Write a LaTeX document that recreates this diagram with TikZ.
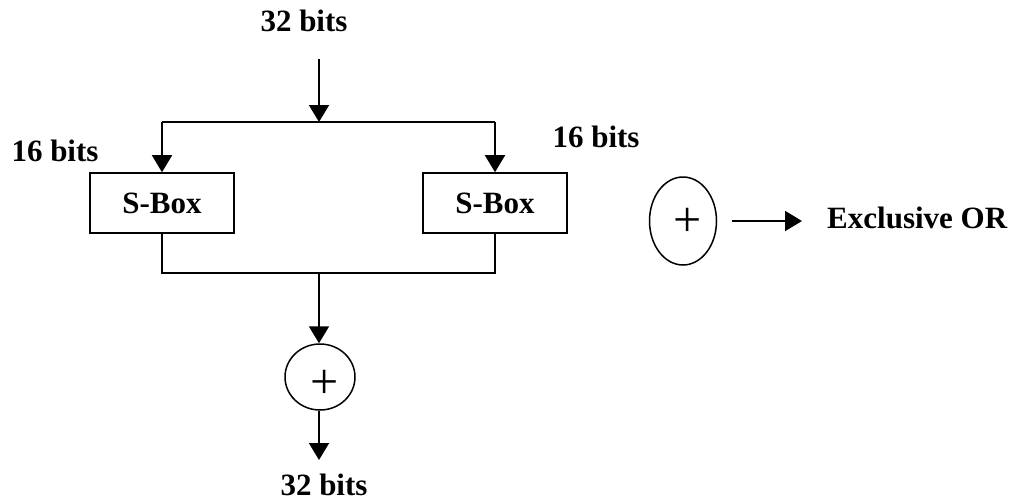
\documentclass[tikz,border=0pt]{standalone}
\usepackage{fontspec}
\setmainfont{Liberation Serif}
\usetikzlibrary{arrows.meta,shapes.geometric}
\begin{document}
\begin{tikzpicture}[x=1pt,y=-1pt,
  lbl/.style={inner sep=0pt,font=\fontsize{31}{36}\selectfont\bfseries},
  sbox/.style={draw,line width=1.6pt,minimum width=144pt,minimum height=60pt,inner sep=0pt,font=\fontsize{31}{36}\selectfont\bfseries},
  xorshape/.style={draw,ellipse,line width=1.5pt,inner sep=0pt},
  plussign/.style={inner sep=0pt,font=\fontsize{50}{54}\selectfont},
  wire/.style={line width=1.8pt},
  arr/.style={wire,-{Triangle[width=20pt,length=17pt]}}]
\useasboundingbox (0,0) rectangle (1019,501);
% labels
\node[lbl] (top) at (304,21) {32 bits};
\node[lbl] (l16) at (55,151) {16 bits};
\node[lbl] (r16) at (596,137) {16 bits};
\node[lbl] (bot) at (324,485) {32 bits};
% boxes
\node[sbox] (sl) at (162,203) {S-Box};
\node[sbox] (sr) at (495,203) {S-Box};
% xor
\node[xorshape,minimum width=70pt,minimum height=66pt] (xor) at (320,377) {};
\node[plussign] (xp) at (325,384) {+};
% coordinates
\coordinate (a0) at (319,59);
\coordinate (j1) at (319,122);
\coordinate (j2) at (319,273);
\coordinate (out) at (319,460);
% connectors
\draw[arr] (a0) -- (j1);
\draw[wire] (sl.north |- j1) -- (sr.north |- j1);
\draw[arr] (sl.north |- j1) -- (sl.north);
\draw[arr] (sr.north |- j1) -- (sr.north);
\draw[wire] (sl.south) |- (j2) -| (sr.south);
\draw[arr] (j2) -- (xor.north -| j2);
\draw[arr] (xor.south -| out) -- (out);
% legend
\node[xorshape,minimum width=67pt,minimum height=88pt] (leg) at (683,221) {};
\node[plussign] (lp) at (688,222) {+};
\node[lbl,anchor=west] (exor) at (827,218) {Exclusive OR};
\draw[arr,shorten <=15pt,shorten >=25pt] (leg.east) -- (exor.west |- leg.east);
\end{tikzpicture}
\end{document}
